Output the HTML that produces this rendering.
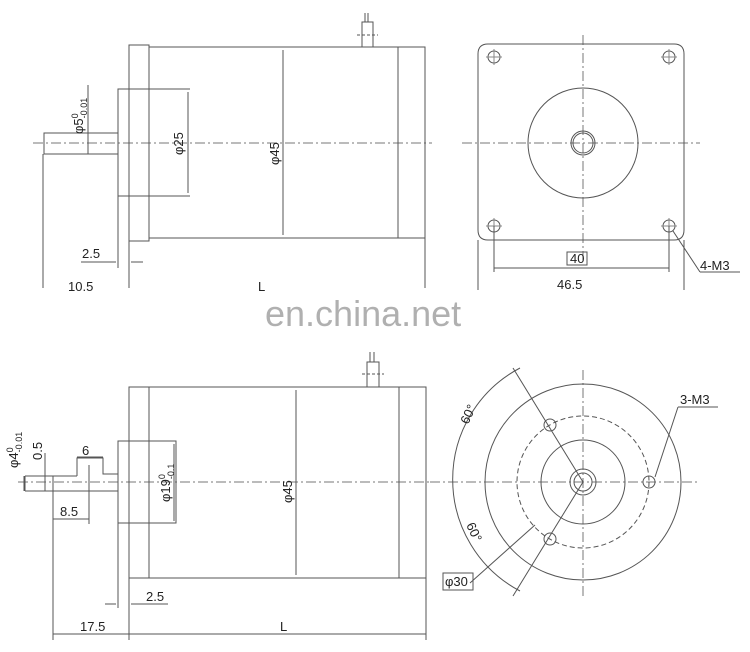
<!DOCTYPE html>
<html><head><meta charset="utf-8"><style>
html,body{margin:0;padding:0;background:#fff;}
svg{display:block;font-family:"Liberation Sans",sans-serif;}
text{fill:#222;}
</style></head><body>
<svg width="750" height="652" viewBox="0 0 750 652" xmlns="http://www.w3.org/2000/svg">
<g stroke="#555" stroke-width="1" fill="none">
<!-- TOP LEFT VIEW -->
<line x1="33" y1="143" x2="432" y2="143" stroke-dasharray="10,3,2,3" stroke="#777"/>
<rect x="129" y="45" width="20" height="196"/>
<rect x="149" y="47" width="276" height="191"/>
<line x1="398" y1="47" x2="398" y2="238"/>
<rect x="118" y="89" width="31" height="107"/>
<line x1="149" y1="89" x2="190" y2="89"/><line x1="149" y1="196" x2="190" y2="196"/>
<line x1="188" y1="92" x2="188" y2="193"/>
<rect x="44" y="133" width="74" height="21"/>
<line x1="88" y1="85" x2="88" y2="154"/>
<line x1="283" y1="50" x2="283" y2="235"/>
<rect x="362" y="22" width="11" height="25"/>
<line x1="365" y1="13" x2="365" y2="22"/><line x1="368" y1="13" x2="368" y2="22"/>
<line x1="357" y1="35" x2="378" y2="35" stroke-dasharray="3,2"/>
<line x1="43" y1="154" x2="43" y2="288"/>
<line x1="129" y1="241" x2="129" y2="288"/>
<line x1="118" y1="196" x2="118" y2="268"/>
<line x1="425" y1="238" x2="425" y2="288"/>
<line x1="81" y1="262" x2="116" y2="262"/><line x1="131" y1="262" x2="143" y2="262"/>
<!-- TOP RIGHT VIEW -->
<line x1="462" y1="143" x2="700" y2="143" stroke-dasharray="10,3,2,3" stroke="#777"/>
<line x1="583" y1="35" x2="583" y2="260" stroke-dasharray="10,3,2,3" stroke="#777"/>
<path d="M488 44 H674 Q684 44 684 54 V230 Q684 240 674 240 H488 Q478 240 478 230 V54 Q478 44 488 44 Z"/>
<line x1="478" y1="240" x2="478" y2="290"/><line x1="684" y1="240" x2="684" y2="290"/>
<circle cx="583" cy="143" r="55"/>
<circle cx="583" cy="143" r="12"/><circle cx="583" cy="143" r="10"/>
<circle cx="494" cy="57" r="6"/><circle cx="669" cy="57" r="6"/>
<circle cx="494" cy="226" r="6"/><circle cx="669" cy="226" r="6"/>
<path d="M486 57h16M494 49v16M661 57h16M669 49v16M486 226h16M494 218v16M661 226h16M669 218v16" stroke="#888"/>
<line x1="494" y1="226" x2="494" y2="272"/><line x1="669" y1="226" x2="669" y2="272"/>
<line x1="494" y1="268" x2="669" y2="268"/>
<rect x="567" y="252" width="20" height="13"/>
<line x1="673" y1="231" x2="700" y2="272"/><line x1="700" y1="272" x2="740" y2="272"/>
<!-- BOTTOM LEFT VIEW -->
<line x1="18" y1="482" x2="432" y2="482" stroke-dasharray="10,3,2,3" stroke="#777"/>
<rect x="129" y="387" width="297" height="191"/>
<line x1="149" y1="387" x2="149" y2="578"/><line x1="399" y1="387" x2="399" y2="578"/>
<rect x="118" y="441" width="58" height="82"/>
<line x1="25" y1="476" x2="77" y2="476"/>
<polyline points="77,476 77,458 103,458 103,474 118,474"/>
<line x1="25" y1="491" x2="118" y2="491"/>
<line x1="25" y1="476" x2="25" y2="491"/>
<rect x="45" y="476" width="8" height="15"/>
<line x1="174" y1="444" x2="174" y2="521"/>
<line x1="296" y1="390" x2="296" y2="575"/>
<rect x="367" y="362" width="12" height="25"/>
<line x1="370" y1="352" x2="370" y2="362"/><line x1="374" y1="352" x2="374" y2="362"/>
<line x1="362" y1="374" x2="384" y2="374" stroke-dasharray="3,2"/>
<line x1="53" y1="491" x2="53" y2="640"/>
<line x1="89" y1="465" x2="89" y2="524"/>
<line x1="53" y1="519" x2="89" y2="519"/>
<line x1="77" y1="457" x2="103" y2="457"/>
<line x1="118" y1="523" x2="118" y2="608"/>
<line x1="129" y1="578" x2="129" y2="640"/>
<line x1="426" y1="578" x2="426" y2="640"/>
<line x1="105" y1="604" x2="116" y2="604"/><line x1="131" y1="604" x2="168" y2="604"/>
<line x1="53" y1="634" x2="426" y2="634"/>
<line x1="45" y1="453" x2="45" y2="482"/>
<line x1="24" y1="476" x2="24" y2="491"/>
<!-- BOTTOM RIGHT VIEW -->
<line x1="430" y1="482" x2="700" y2="482" stroke-dasharray="10,3,2,3" stroke="#777"/>
<line x1="583" y1="370" x2="583" y2="598" stroke-dasharray="10,3,2,3" stroke="#777"/>
<circle cx="583" cy="482" r="98"/>
<circle cx="583" cy="482" r="66" stroke-dasharray="5,3"/>
<circle cx="583" cy="482" r="42"/>
<circle cx="583" cy="482" r="13"/><circle cx="583" cy="482" r="9"/>
<circle cx="649" cy="482" r="6"/><circle cx="550" cy="425" r="6"/><circle cx="550" cy="539" r="6"/>
<path d="M520 368 A126 126 0 0 0 520 591"/>
<line x1="513" y1="368" x2="583" y2="482"/><line x1="513" y1="596" x2="583" y2="482"/>
<line x1="655" y1="477" x2="678" y2="407"/><line x1="678" y1="407" x2="718" y2="407"/>
<line x1="470" y1="583" x2="535" y2="525"/>
<rect x="443" y="573" width="30" height="17"/>
</g>
<g font-size="13">
<text x="82" y="258">2.5</text>
<text x="68" y="291">10.5</text>
<text x="258" y="291">L</text>
<text transform="translate(83,134) rotate(-90)">φ5<tspan font-size="9" dy="-5">0</tspan><tspan font-size="9" dx="-5" dy="9">-0.01</tspan></text>
<text transform="translate(183,155) rotate(-90)">φ25</text>
<text transform="translate(279,165) rotate(-90)">φ45</text>
<text x="570" y="263">40</text>
<text x="557" y="289">46.5</text>
<text x="700" y="270">4-M3</text>
<text x="82" y="455">6</text>
<text x="60" y="516">8.5</text>
<text x="146" y="601">2.5</text>
<text x="80" y="631">17.5</text>
<text x="280" y="631">L</text>
<text transform="translate(42,460) rotate(-90)">0.5</text>
<text transform="translate(18,468) rotate(-90)">φ4<tspan font-size="9" dy="-5">0</tspan><tspan font-size="9" dx="-5" dy="9">-0.01</tspan></text>
<text transform="translate(170,502) rotate(-90)">φ19<tspan font-size="9" dy="-5">0</tspan><tspan font-size="9" dx="-5" dy="9">-0.1</tspan></text>
<text transform="translate(292,503) rotate(-90)">φ45</text>
<text x="680" y="404">3-M3</text>
<text x="445" y="586">φ30</text>
<text transform="translate(468,425) rotate(-65)">60°</text>
<text transform="translate(466,525) rotate(65)">60°</text>
</g>
<text x="265" y="326" font-size="36" fill="#aaa" style="fill:#b0b0b0">en.china.net</text>
</svg>
</body></html>
